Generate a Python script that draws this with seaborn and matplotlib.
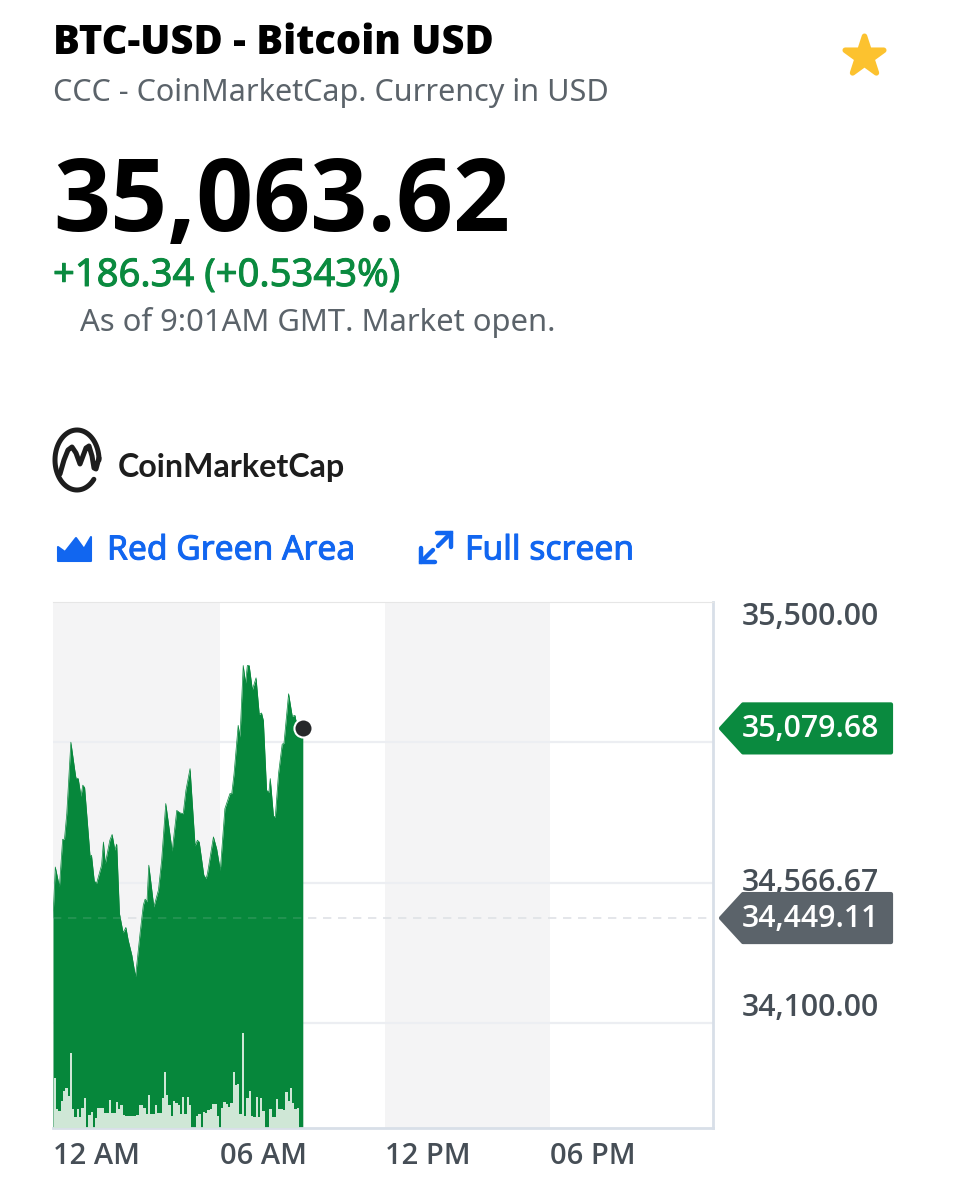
import numpy as np
import pandas as pd
import matplotlib
matplotlib.use('Agg')
import matplotlib.pyplot as plt
import matplotlib.patheffects as pe
from matplotlib.patches import Polygon
import seaborn as sns

# minutes after the left edge of the chart and price
minutes = [0, 5, 14, 21, 25, 30, 39, 47, 50, 55, 61, 65, 69, 81, 84, 90, 95, 106, 110, 114,
           124, 129, 135, 139, 145, 153, 159, 164, 172, 180, 190, 197, 201, 205, 209, 220,
           230, 237, 246, 260, 270, 277, 284, 290, 299, 310, 315, 319, 329, 334, 337, 350,
           357, 365, 375, 386, 390, 395, 404, 408, 415, 420, 424, 428, 435, 443, 450, 455,
           459, 466, 471, 474, 481, 485, 492, 500, 504, 514, 522, 528, 530, 545]
prices = [34449, 34619, 34553, 34711, 34711, 34796, 35034, 34946, 34915, 34913, 34854, 34891,
          34883, 34652, 34658, 34573, 34564, 34625, 34702, 34630, 34708, 34727, 34675, 34695,
          34464, 34400, 34418, 34376, 34326, 34254, 34399, 34492, 34512, 34503, 34625, 34486,
          34542, 34641, 34830, 34672, 34807, 34799, 34796, 34874, 34946, 34689, 34708, 34702,
          34592, 34580, 34597, 34719, 34680, 34608, 34813, 34863, 34863, 34929, 35090, 35051,
          35289, 35230, 35289, 35289, 35208, 35248, 35126, 35131, 35106, 34874, 34867, 34913,
          34788, 34785, 34929, 35027, 35031, 35195, 35120, 35123, 35106, 35079.68]

# one bar every 5 minutes from midnight
volumes = [50, 19, 17, 27, 37, 40, 32, 75, 19, 11, 19, 11, 20, 30, 0, 13, 16, 0, 10, 20,
           20, 20, 15, 15, 28, 15, 15, 26, 19, 23, 13, 12, 12, 12, 12, 12, 13, 23, 23, 20,
           14, 33, 14, 14, 23, 15, 15, 30, 56, 33, 23, 12, 27, 25, 23, 14, 31, 14, 31, 23,
           0, 0, 12, 14, 0, 16, 15, 18, 19, 24, 24, 12, 0, 20, 26, 24, 21, 25, 56, 43,
           44, 14, 95, 12, 30, 37, 12, 11, 31, 11, 30, 17, 0, 0, 19, 11, 11, 29, 19, 19,
           18, 36, 27, 40, 25, 19, 20]
volume_minutes = [5 * i for i in range(len(volumes))]

# the session starts a few minutes before the 12 AM mark
START = -4.4
chart_minutes = np.array(minutes) + START

xtick_minutes = [START, 360, 720, 1080]
xtick_labels = ['12 AM', '06 AM', '12 PM', '06 PM']
grid_prices = [34100, 34566.67, 35033.33]
ytick_prices = [35500, 34566.67, 34100]
ytick_labels = ['35,500.00', '34,566.67', '34,100.00']
ytick_shift = [-15, 0, 15]
last_price = 35079.68
prev_close = 34449.11

GREEN = '#06873b'
TEXT_GREEN = '#0a8a3f'
GREY = '#5b636a'
LABEL = '#464e56'
BLUE = '#1166f0'
LINE = '#eceef2'
SPINE = '#d8dfe8'
HEAD = 'Open Sans'

sns.set_theme(style='white')
plt.rcParams['font.family'] = ['Noto Sans', 'DejaVu Sans']

fig = plt.figure(figsize=(9.54, 12), dpi=100, facecolor='white')
ax = fig.add_axes([53 / 954, 72 / 1200, 660 / 954, 526 / 1200])

ax.axvspan(START, 360, color='#f4f4f5', lw=0, zorder=0)
ax.axvspan(720, 1080, color='#f4f4f5', lw=0, zorder=0)
for p in grid_prices:
    ax.axhline(p, color=LINE, lw=1.6, zorder=1)
ax.axhline(prev_close, color='#dfe2e6', lw=1.2, ls=(0, (5, 4)), zorder=1)

df = pd.DataFrame({'minutes': chart_minutes, 'price': prices})
sns.lineplot(data=df, x='minutes', y='price', color=GREEN, lw=0.5, ax=ax, zorder=3)
ax.fill_between(chart_minutes, prices, 33750, color=GREEN, lw=0, zorder=2)
ax.plot(chart_minutes[[0, -1]], [prev_close, prev_close], color='#dfe2e6', lw=1.2,
        ls=(0, (5, 4)), alpha=0.15, zorder=4)

ax.set_xlim(START, 1440 + START)
ax.set_ylim(33751, 35500)
ax.set_xticks(xtick_minutes)
ax.set_xticklabels(xtick_labels, ha='left', fontsize=21, fontweight='semibold', family=HEAD, color=LABEL)
ax.set_yticks([])
ax.set_xlabel('')
ax.set_ylabel('')
ax.tick_params(axis='x', length=0, pad=10)
ax.spines['left'].set_visible(False)
ax.spines['top'].set_color('#e6e6e6')
ax.spines['top'].set_linewidth(0.8)
for side in ['right', 'bottom']:
    ax.spines[side].set_color(SPINE)
    ax.spines[side].set_linewidth(2)

# volume bars on a hidden axis, over the area
vol_ax = ax.twinx()
vol_ax.patch.set_visible(False)
sns.barplot(x=volume_minutes, y=volumes, native_scale=True, color='#cfe7d6', saturation=1,
            width=1, linewidth=0, ax=vol_ax)
vol_ax.set_xlim(START, 1440 + START)
vol_ax.set_ylim(0, 526)
vol_ax.set_yticks([])
vol_ax.set_ylabel('')
vol_ax.set_xlabel('')
for s in vol_ax.spines.values():
    s.set_visible(False)

# y labels sit next to the axis, the outer two pushed inside the plot height
for val, txt, dy in zip(ytick_prices, ytick_labels, ytick_shift):
    ax.annotate(txt, xy=(1, val), xycoords=ax.get_yaxis_transform(), xytext=(29, dy),
                textcoords='offset pixels', ha='left', va='center', fontsize=21.8, family=HEAD,
                fontweight='semibold', color=LABEL, annotation_clip=False)

# overlay in pixel coordinates for the page furniture
ov = fig.add_axes([0, 0, 1, 1], zorder=10)
ov.set_xlim(0, 954)
ov.set_ylim(1200, 0)
ov.axis('off')


def price_y(val):
    return 1200 - ax.transData.transform((0, val))[1]


def tag(val, txt, color):
    y = price_y(val)
    ov.add_patch(Polygon([(721, y), (743, y - 24), (891, y - 24), (891, y + 24), (743, y + 24)],
                         closed=True, fc=color, ec=color, lw=3, joinstyle='round'))
    ov.text(742, y + 1, txt, ha='left', va='center', fontsize=21.8, family=HEAD,
            fontweight='semibold', color='white')


tag(last_price, '35,079.68', TEXT_GREEN)
tag(prev_close, '34,449.11', GREY)


def medium(color):
    return [pe.withStroke(linewidth=0.7, foreground=color)]


# last price marker, drawn in the overlay so it stays above the bars
ov_x, ov_y = ax.transData.transform((chart_minutes[-1], last_price))
sns.scatterplot(x=[ov_x], y=[1200 - ov_y], s=170, color='#26282a', edgecolor='white',
                linewidth=1.5, ax=ov, legend=False)
ov.set_xlim(0, 954)
ov.set_ylim(1200, 0)
ov.axis('off')

ov.text(53, 43, 'BTC-USD - Bitcoin USD', fontsize=28.7, fontweight=800, family=HEAD, color='black', va='center')
ov.text(53, 93, 'CCC - CoinMarketCap. Currency in USD', fontsize=22, color=GREY, va='center')
ov.text(53, 205, '35,063.62', fontsize=72, fontweight=700, family=HEAD, color='black', va='center')
ov.text(53, 276, '+186.34 (+0.5343%)', fontsize=27.5, color=TEXT_GREEN, va='center',
        path_effects=medium(TEXT_GREEN))
ov.text(80, 323, 'As of 9:01AM GMT. Market open.', fontsize=22.3, color=GREY, va='center')

star = ov.scatter([864], [56], marker='*', s=850, color='#fcc22f', edgecolor='#fcc22f', lw=4)
star.set_joinstyle('round')

# CoinMarketCap logo
t = np.radians(np.linspace(40, 360, 80))
ov.plot(77 + 22 * np.cos(t), 460 + 30 * np.sin(t), color='#1d1d1d', lw=3.6, solid_capstyle='round')
ov.plot([60, 64, 68, 72, 76, 80, 83, 86, 89, 92, 94, 96, 99], [474, 460, 450, 447, 453, 464, 456, 448, 446, 456, 468, 469, 458],
        color='#1d1d1d', lw=3.6, solid_capstyle='round', solid_joinstyle='round')
ov.text(118, 467, 'CoinMarketCap', fontsize=23.2, fontweight='bold', family='Lato', color='#1d1d1d', va='center')

# area icon and full screen icon
ov.add_patch(Polygon([(58, 561), (58, 547), (65, 552), (76, 538), (84, 549), (91, 537), (91, 561)],
                     closed=True, fc=BLUE, ec=BLUE, lw=1.5, joinstyle='round'))
ov.text(107, 551, 'Red Green Area', fontsize=24.2, color=BLUE, va='center', path_effects=medium(BLUE))
ov.plot([437, 451, 451], [533, 533, 547], color=BLUE, lw=3.2, solid_joinstyle='miter')
ov.plot([451, 438], [533, 546], color=BLUE, lw=3.2)
ov.plot([421, 421, 435], [548, 562, 562], color=BLUE, lw=3.2, solid_joinstyle='miter')
ov.plot([421, 433], [562, 550], color=BLUE, lw=3.2)
ov.text(465, 551, 'Full screen', fontsize=24.2, color=BLUE, va='center', path_effects=medium(BLUE))

fig.savefig('out.png', dpi=100)
